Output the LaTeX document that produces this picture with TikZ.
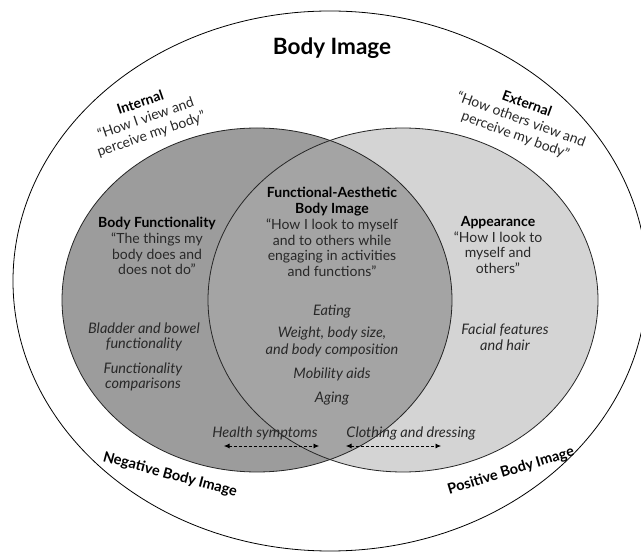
\documentclass[tikz,border=0pt]{standalone}
\usepackage{fontspec}
\setmainfont{Lato}
\usetikzlibrary{arrows.meta}
\definecolor{leftc}{RGB}{156,156,156}
\definecolor{interc}{RGB}{164,164,164}
\definecolor{rightc}{RGB}{212,212,212}
\definecolor{bodytxt}{RGB}{40,40,40}
\begin{document}
\begin{tikzpicture}[x=1pt,y=-1pt,
  ring/.style={draw=black,line width=0.8pt},
  lens/.style={draw=black!85,line width=0.8pt},
  txt/.style={align=center,text=bodytxt,inner sep=0pt,font=\fontsize{14}{15.8}\selectfont},
  rtxt/.style={align=center,text=bodytxt,inner sep=0pt,font=\fontsize{14}{16.6}\selectfont},
  ttl/.style={align=center,text=black,inner sep=0pt,font=\fontsize{14.5}{16}\selectfont\bfseries},
  itx/.style={align=center,text=bodytxt,inner sep=0pt,font=\fontsize{14.5}{17.5}\selectfont\itshape},
  itxs/.style={align=center,text=bodytxt,inner sep=0pt,font=\fontsize{14.5}{15.5}\selectfont\itshape},
  dbl/.style={dashed,dash pattern=on 3pt off 2pt,line width=0.7pt,{Latex[length=5.5pt,width=5pt]}-{Latex[length=5.5pt,width=5pt]}}
]
\useasboundingbox (0,0) rectangle (641,553);
\fill[white] (0,0) rectangle (641,553);
% outer ellipse
\draw[ring] (330,281) ellipse [x radius=317pt, y radius=270pt];
% venn
\fill[rightc] (403,300) ellipse [x radius=195pt, y radius=172pt];
\fill[leftc] (257,300) ellipse [x radius=195pt, y radius=172pt];
\begin{scope}
  \clip (257,300) ellipse [x radius=195pt, y radius=172pt];
  \fill[interc] (403,300) ellipse [x radius=195pt, y radius=172pt];
\end{scope}
\draw[lens] (403,300) ellipse [x radius=195pt, y radius=172pt];
\draw[lens] (257,300) ellipse [x radius=195pt, y radius=172pt];

% title
\node[inner sep=0pt,font=\fontsize{22.5}{26}\selectfont\bfseries] (title) at (332,48) {Body Image};

% internal / external
\node[rtxt,rotate=19] (internal) at (146,119) {\textbf{\color{black}Internal}\\“How I view and\\perceive my body”};
\node[rtxt,rotate=-20] (external) at (521,120) {\textbf{\color{black}External}\\“How others view and\\perceive my body”};

% body functionality
\node[txt] (bf) at (157,246) {\textbf{\color{black}Body Functionality}\\“The things my\\body does and\\does not do”};
\node[itxs] (bladder) at (144,337) {Bladder and bowel\\functionality};
\node[itxs] (fcomp) at (143,377) {Functionality\\comparisons};

% functional-aesthetic
\node[txt] (fa) at (332,232) {\textbf{\color{black}Functional-Aesthetic}\\\textbf{\color{black}Body Image}\\“How I look to myself\\and to others while\\engaging in activities\\and functions”};
\node[itx] (eat) at (332,312) {Eating};
\node[itx] (weight) at (332,342) {Weight, body size,\\and body composition};
\node[itx] (mob) at (332,374) {Mobility aids};
\node[itx] (aging) at (332,399) {Aging};

% appearance
\node[txt] (app) at (498,245) {\textbf{\color{black}Appearance}\\“How I look to\\myself and\\others”};
\node[itxs] (facial) at (505,337) {Facial features\\and hair};

% bottom arrows
\node[itx] (health) at (265,433) {Health symptoms};
\node[itx] (cloth) at (411,433) {Clothing and dressing};
\coordinate (h1) at (224,446);
\coordinate (h2) at (319,446);
\coordinate (c1) at (346,446);
\coordinate (c2) at (441,446);
\draw[dbl] (h1) -- (h2);
\draw[dbl] (c1) -- (c2);

% negative / positive
\node[ttl,rotate=-15] (neg) at (170,475) {Negative Body Image};
\node[ttl,rotate=17] (pos) at (511,471) {Positive Body Image};
\end{tikzpicture}
\end{document}
